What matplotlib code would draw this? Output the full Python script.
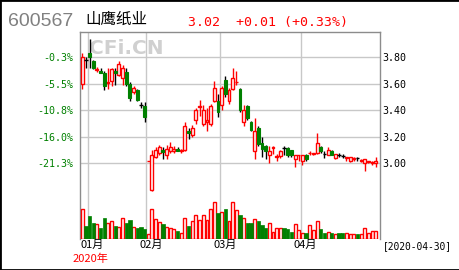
import numpy as np
import matplotlib
matplotlib.use('Agg')
from matplotlib import pyplot as plt
from matplotlib.patches import Rectangle

# Naglowek
code = '600567'
name = '山鹰纸业'
quote = '3.02  +0.01 (+0.33%)'
date_label = '[2020-04-30]'
year_label = '2020年'

# Dane dzienne 2019-12-30 .. 2020-04-30
opens = [3.60, 3.78, 3.83, 3.77, 3.705, 3.70, 3.685, 3.605, 3.62, 3.70, 3.665, 3.64, 3.69, 3.60, 3.54, 3.55, 3.44, 3.435,
         3.015, 2.80, 3.05, 3.075, 3.10, 3.06, 3.09, 3.09, 3.11, 3.09, 3.10, 3.245, 3.21, 3.33, 3.425, 3.30, 3.31, 3.30, 3.47, 3.47,
         3.44, 3.63, 3.47, 3.56, 3.61, 3.56, 3.31, 3.43, 3.31, 3.09, 3.27, 3.15, 3.13, 3.06, 3.115, 3.05, 3.055, 3.115, 3.115, 3.10, 3.03, 3.06,
         3.02, 3.065, 3.075, 3.07, 3.08, 3.125, 3.07, 3.065, 3.09, 3.04, 3.065, 3.055, 3.04, 3.02, 3.035, 3.04, 3.02, 3.00, 3.01, 3.005, 3.00]
closes = [3.80, 3.78, 3.80, 3.72, 3.71, 3.685, 3.58, 3.61, 3.71, 3.68, 3.75, 3.72, 3.60, 3.49, 3.57, 3.48, 3.44, 3.35,
          3.02, 3.06, 3.10, 3.12, 3.085, 3.11, 3.125, 3.11, 3.095, 3.10, 3.28, 3.225, 3.27, 3.40, 3.43, 3.40, 3.33, 3.43, 3.565, 3.39,
          3.565, 3.52, 3.55, 3.645, 3.615, 3.40, 3.40, 3.34, 3.25, 3.245, 3.145, 3.11, 3.095, 3.095, 3.12, 3.055, 3.09, 3.115, 3.065, 3.065, 3.065, 3.065,
          3.065, 3.03, 3.08, 3.075, 3.15, 3.09, 3.07, 3.10, 3.065, 3.07, 3.065, 3.055, 3.045, 3.045, 3.04, 3.04, 3.025, 3.03, 3.015, 3.01, 3.02]
highs = [3.83, 3.80, 3.94, 3.78, 3.73, 3.72, 3.70, 3.72, 3.72, 3.72, 3.77, 3.74, 3.72, 3.61, 3.58, 3.56, 3.46, 3.465,
         3.02, 3.10, 3.12, 3.14, 3.12, 3.135, 3.16, 3.13, 3.12, 3.11, 3.31, 3.27, 3.29, 3.42, 3.48, 3.44, 3.42, 3.45, 3.62, 3.52,
         3.58, 3.66, 3.57, 3.72, 3.70, 3.57, 3.44, 3.44, 3.32, 3.34, 3.28, 3.20, 3.14, 3.13, 3.13, 3.07, 3.10, 3.13, 3.12, 3.10, 3.065, 3.065,
         3.065, 3.07, 3.09, 3.08, 3.225, 3.13, 3.09, 3.12, 3.10, 3.07, 3.08, 3.07, 3.05, 3.05, 3.05, 3.05, 3.03, 3.03, 3.02, 3.02, 3.045]
lows = [3.56, 3.72, 3.72, 3.71, 3.69, 3.68, 3.55, 3.56, 3.58, 3.59, 3.66, 3.59, 3.58, 3.47, 3.52, 3.47, 3.42, 3.31,
        3.015, 2.79, 3.04, 3.06, 3.03, 3.03, 3.08, 3.08, 3.09, 3.08, 3.09, 3.18, 3.20, 3.30, 3.36, 3.28, 3.24, 3.28, 3.46, 3.35,
        3.40, 3.50, 3.45, 3.55, 3.59, 3.39, 3.28, 3.33, 3.24, 3.03, 3.13, 3.05, 3.03, 3.00, 3.07, 3.02, 3.04, 3.06, 3.05, 3.05, 2.97, 3.02,
        2.99, 3.02, 3.06, 3.06, 3.07, 3.08, 3.04, 3.06, 3.06, 3.03, 3.05, 3.04, 3.02, 3.01, 3.02, 3.02, 3.01, 2.94, 3.00, 2.99, 2.97]
volumes = [3.0, 1.33, 2.33, 1.6, 1.53, 1.1, 2.1, 1.6, 1.87, 1.33, 1.2, 2.1, 1.6, 1.93, 1.2, 1.1, 1.2, 1.0,
           0.53, 3.0, 2.0, 1.7, 1.53, 1.2, 1.13, 1.0, 0.87, 0.67, 2.1, 1.33, 1.87, 2.43, 1.93, 2.43, 1.93, 3.0, 3.77, 2.67,
           2.77, 3.0, 1.87, 3.77, 2.9, 2.4, 2.1, 1.6, 1.6, 2.0, 1.87, 1.43, 1.1, 1.6, 0.77, 1.1, 1.1, 1.1, 1.0, 0.77, 1.53, 0.93,
           0.6, 0.67, 1.43, 0.93, 1.87, 1.0, 0.6, 0.77, 0.6, 0.53, 0.6, 0.6, 0.6, 0.53, 0.53, 0.53, 0.53, 1.1, 0.6, 0.87, 0.87]

month_labels = ['01月', '02月', '03月', '04月']
month_start = [2, 18, 38, 60]
price_ticks = [3.80, 3.60, 3.40, 3.20, 3.00]
price_labels = ['3.80', '3.60', '3.40', '3.20', '3.00']
pct_labels = ['-0.3%', '-5.5%', '-10.8%', '-16.0%', '-21.3%']

RED = '#ff0000'
GREEN = '#008000'
GRID = '#c8c8c8'
MONO = 'DejaVu Sans Mono'
CJK = ['Noto Sans CJK SC', 'DejaVu Sans']

o, h, l, c = (np.array(a) for a in (opens, highs, lows, closes))
v = np.array(volumes)
x = np.arange(len(c))
flat = np.isclose(o, c)
up = (c > o) & ~flat
down = (c < o) & ~flat

fig = plt.figure(figsize=(4.6, 2.7), dpi=100)
rect = [80 / 460, 1 - 239.3 / 270, 300 / 460, 207.3 / 270]
ax = fig.add_axes(rect)
ax.set_xlim(-0.6, 81.15)
ax.set_ylim(2.426, 3.991)

# Siatka
for p in price_ticks:
    ax.axhline(p, color=GRID, lw=1, zorder=0.5)
for m in month_start:
    ax.axvline(m - 0.5, color=GRID, lw=1, zorder=0.5)

ax.text(89 / 460, 1 - 53.5 / 270, 'CFi.CN', transform=fig.transFigure, fontsize=14.5,
        fontweight='bold', color='#d0d0d0', va='baseline', ha='left', zorder=1)

# Swiece
ax.vlines(x[up], l[up], h[up], color=RED, lw=1, zorder=2)
ax.bar(x[up], c[up] - o[up], bottom=o[up], width=0.8, facecolor='white', edgecolor=RED, lw=1, zorder=3)
ax.vlines(x[down], l[down], h[down], color='black', lw=1, zorder=2)
ax.bar(x[down], o[down] - c[down], bottom=c[down], width=0.8, facecolor=GREEN, edgecolor=GREEN, lw=0.8, zorder=3)
ax.vlines(x[flat], l[flat], h[flat], color='black', lw=1, zorder=2)
ax.hlines(c[flat], x[flat] - 0.5, x[flat] + 0.5, color='black', lw=1, zorder=3)

# Osie
ax.set_xticks([])
ax.set_yticks(price_ticks, pct_labels)
ax.tick_params(axis='y', length=0, pad=5.2, labelcolor=GREEN, labelsize=7.2)
for t in ax.get_yticklabels():
    t.set_fontfamily(MONO)
sec = ax.secondary_yaxis('right')
sec.set_yticks(price_ticks, price_labels)
sec.tick_params(length=0, pad=1.4, labelsize=7.2)
for t in sec.get_yticklabels():
    t.set_fontfamily(MONO)
sec.spines['right'].set_visible(False)
for s in ['left', 'right', 'top']:
    ax.spines[s].set_color('#8c8c8c')
    ax.spines[s].set_linewidth(1)
ax.spines['bottom'].set_visible(False)

# Wolumen
axv = ax.twinx()
axv.set_ylim(0, 20.73)
axv.set_yticks([])
for s in axv.spines.values():
    s.set_visible(False)
vup = up
vdn = ~up
axv.bar(x[vup], v[vup], width=0.8, facecolor='white', edgecolor=RED, lw=1)
axv.bar(x[vdn], v[vdn], width=0.9, facecolor=GREEN, edgecolor=GREEN, lw=0.5)

for m, lab in zip(month_start, month_labels):
    ax.text(m - 0.5 - 1.85, -0.004, lab, transform=ax.get_xaxis_transform(), ha='left', va='top',
            fontsize=8, family=CJK)

fig.text(72.7 / 460, 1 - 258.5 / 270, year_label, color=RED, fontsize=8, family=CJK, va='center', ha='left')
fig.text(382.7 / 460, 1 - 245.8 / 270, date_label, fontsize=6.9, family=MONO, va='center', ha='left')

fig.text(8 / 460, 1 - 26 / 270, code, fontsize=14, family='Liberation Sans', color='#808080', va='baseline')
fig.text(85 / 460, 1 - 19.5 / 270, name, fontsize=11.2, family=CJK, va='center')
fig.text(188 / 460, 1 - 26 / 270, quote, fontsize=9.5, family=MONO, color=RED, va='baseline')

fig.add_artist(Rectangle((0, 0), 1, 1, transform=fig.transFigure, fill=False, edgecolor='black', lw=2))

fig.savefig('out.png', dpi=100)
